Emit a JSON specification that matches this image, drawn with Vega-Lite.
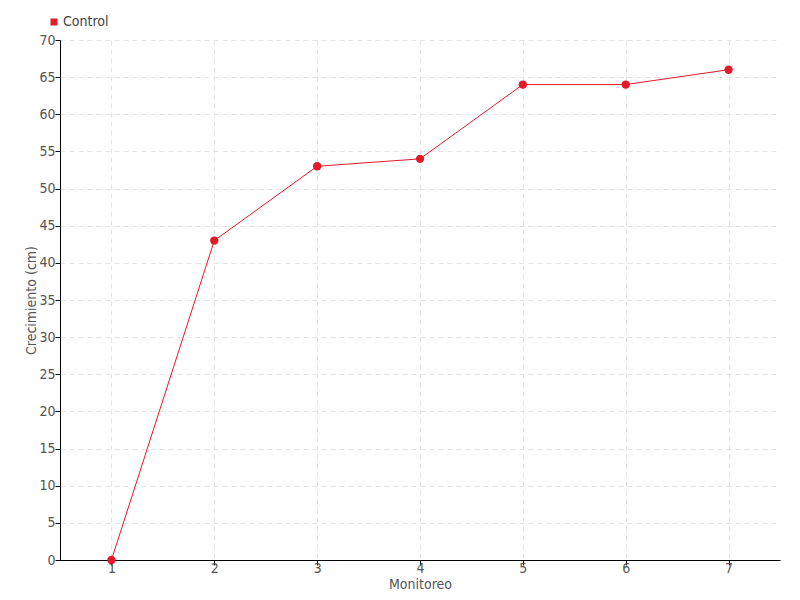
{
  "$schema": "https://vega.github.io/schema/vega-lite/v6.json",
  "width": 720,
  "height": 520,
  "autosize": {"type": "none"},
  "padding": {"left": 60, "top": 40, "right": 20, "bottom": 40},
  "background": "white",
  "config": {
    "view": {"stroke": null},
    "font": "DejaVu Sans Condensed, Liberation Sans Narrow, DejaVu Sans",
    "axis": {
      "domainColor": "#000000",
      "tickColor": "#000000",
      "tickSize": 5,
      "gridColor": "#e4e4e4",
      "gridDash": [5, 4],
      "labelColor": "#555555",
      "labelFontSize": 14,
      "titleColor": "#555555",
      "titleFontSize": 14,
      "titleFontWeight": "normal"
    }
  },
  "data": {
    "values": [
      {"Monitoreo": "1", "Crecimiento": 0, "Serie": "Control"},
      {"Monitoreo": "2", "Crecimiento": 43, "Serie": "Control"},
      {"Monitoreo": "3", "Crecimiento": 53, "Serie": "Control"},
      {"Monitoreo": "4", "Crecimiento": 54, "Serie": "Control"},
      {"Monitoreo": "5", "Crecimiento": 64, "Serie": "Control"},
      {"Monitoreo": "6", "Crecimiento": 64, "Serie": "Control"},
      {"Monitoreo": "7", "Crecimiento": 66, "Serie": "Control"}
    ]
  },
  "encoding": {
    "x": {
      "field": "Monitoreo",
      "type": "ordinal",
      "scale": {"type": "point", "padding": 0.5},
      "axis": {"title": "Monitoreo", "labelAngle": 0, "grid": true, "titlePadding": 2, "labelPadding": -4}
    },
    "y": {
      "field": "Crecimiento",
      "type": "quantitative",
      "scale": {"domain": [0, 70], "nice": false},
      "axis": {"title": "Crecimiento (cm)", "values": [0,5,10,15,20,25,30,35,40,45,50,55,60,65,70], "grid": true, "titlePadding": 0, "labelPadding": 0}
    },
    "color": {
      "field": "Serie",
      "type": "nominal",
      "scale": {"range": ["#e41a2a"]},
      "legend": {
        "title": null,
        "orient": "none",
        "legendX": -13,
        "legendY": -25,
        "symbolType": "square",
        "symbolSize": 30,
        "labelFontSize": 14,
        "labelColor": "#444444",
        "labelOffset": 2
      }
    }
  },
  "layer": [
    {"mark": {"type": "line", "color": "#ff3344", "strokeWidth": 1}},
    {"mark": {"type": "point", "filled": true, "size": 70, "opacity": 1}}
  ]
}
